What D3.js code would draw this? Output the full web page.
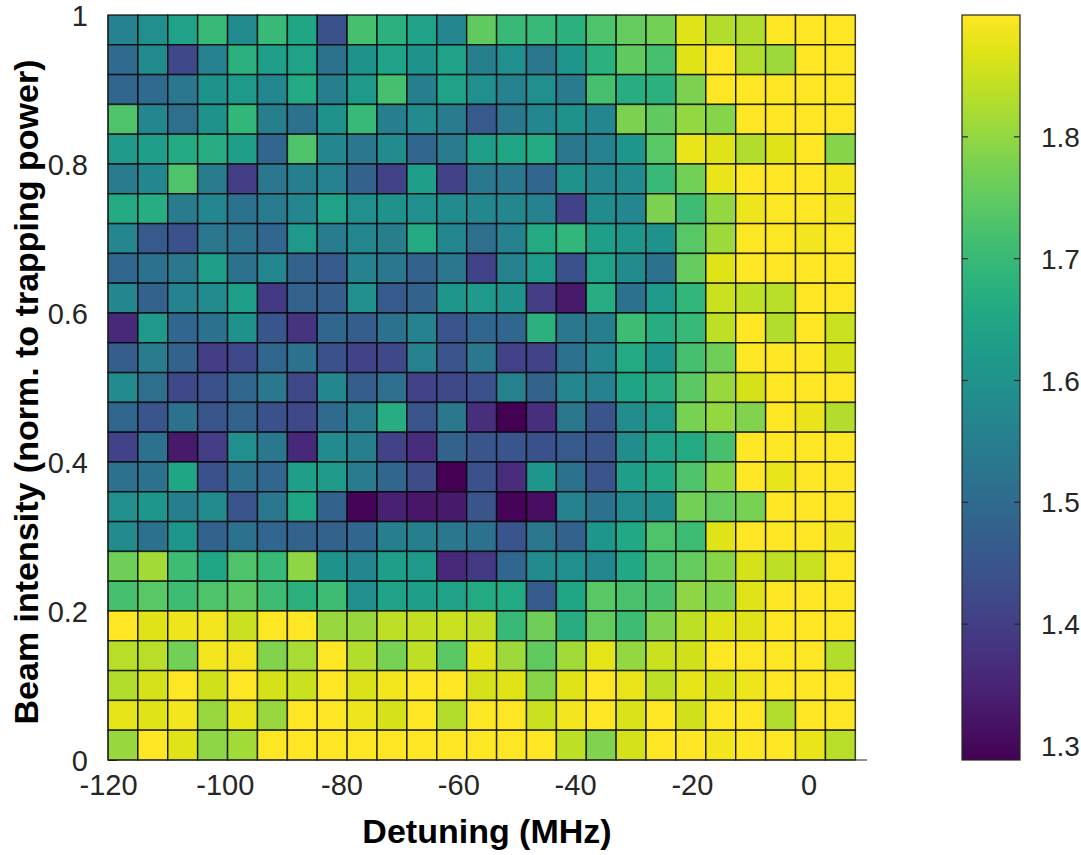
<!DOCTYPE html>
<html>
<head>
<meta charset="utf-8">
<script src="https://cdn.jsdelivr.net/npm/d3@7"></script>
<style>
  body { margin: 0; background: #fff; }
  svg { display: block; font-family: "Liberation Sans", Arial, sans-serif; }
</style>
</head>
<body>
<svg width="1081" height="855"></svg>
<script>
// column centres (MHz), 25 columns from -120 to 8
const detuning = [-117.44, -112.32, -107.2, -102.08, -96.96, -91.84, -86.72, -81.6, -76.48,
  -71.36, -66.24, -61.12, -56, -50.88, -45.76, -40.64, -35.52, -30.4, -25.28, -20.16,
  -15.04, -9.92, -4.8, 0.32, 5.44];
// row centres, top row first
const intensity = [0.98, 0.94, 0.90, 0.86, 0.82, 0.78, 0.74, 0.70, 0.66, 0.62, 0.58, 0.54, 0.50,
  0.46, 0.42, 0.38, 0.34, 0.30, 0.26, 0.22, 0.18, 0.14, 0.10, 0.06, 0.02];

// measured values, one row per intensity (top to bottom)
const z = [
  [1.56,1.59,1.64,1.70,1.58,1.70,1.65,1.44, 1.72,1.68,1.64,1.57,1.75,1.70,1.70,1.68,1.73, 1.755,1.77,1.87,1.83,1.83,1.90,1.90,1.90],
  [1.50,1.58,1.42,1.56,1.68,1.63,1.64,1.52, 1.60,1.64,1.60,1.64,1.55,1.59,1.53,1.61,1.68, 1.75,1.72,1.87,1.90,1.83,1.81,1.90,1.90],
  [1.49,1.50,1.53,1.60,1.62,1.57,1.66,1.55, 1.62,1.72,1.55,1.64,1.59,1.56,1.59,1.54,1.72, 1.67,1.68,1.78,1.90,1.90,1.90,1.90,1.90],
  [1.73,1.57,1.51,1.60,1.69,1.55,1.52,1.60, 1.70,1.55,1.58,1.54,1.46,1.53,1.57,1.60,1.57, 1.78,1.75,1.80,1.79,1.90,1.90,1.90,1.90],
  [1.62,1.63,1.66,1.67,1.63,1.49,1.73,1.57, 1.53,1.58,1.49,1.54,1.63,1.65,1.66,1.53,1.56, 1.61,1.74,1.88,1.87,1.83,1.87,1.90,1.79],
  [1.54,1.57,1.73,1.54,1.40,1.53,1.55,1.56, 1.48,1.41,1.63,1.41,1.53,1.53,1.49,1.60,1.57, 1.58,1.70,1.77,1.88,1.90,1.90,1.90,1.89],
  [1.66,1.67,1.54,1.57,1.52,1.54,1.57,1.64, 1.59,1.60,1.59,1.58,1.57,1.57,1.56,1.41,1.58, 1.57,1.78,1.71,1.80,1.885,1.90,1.90,1.89],
  [1.57,1.46,1.44,1.53,1.52,1.49,1.62,1.54, 1.57,1.55,1.66,1.57,1.51,1.56,1.66,1.69,1.63, 1.61,1.60,1.74,1.81,1.90,1.90,1.89,1.90],
  [1.49,1.52,1.53,1.63,1.52,1.57,1.48,1.46, 1.56,1.53,1.48,1.53,1.41,1.56,1.62,1.44,1.64, 1.58,1.52,1.755,1.87,1.90,1.90,1.90,1.90],
  [1.57,1.48,1.56,1.58,1.63,1.39,1.48,1.47, 1.59,1.46,1.48,1.61,1.62,1.60,1.40,1.33,1.67, 1.52,1.62,1.69,1.85,1.84,1.835,1.90,1.90],
  [1.36,1.62,1.49,1.52,1.60,1.45,1.38,1.49, 1.47,1.52,1.56,1.45,1.49,1.49,1.68,1.53,1.55, 1.71,1.67,1.70,1.84,1.90,1.83,1.90,1.85],
  [1.47,1.54,1.48,1.40,1.42,1.49,1.52,1.44, 1.41,1.42,1.56,1.45,1.53,1.41,1.41,1.52,1.57, 1.66,1.61,1.72,1.765,1.90,1.90,1.90,1.86],
  [1.58,1.51,1.42,1.44,1.49,1.53,1.42,1.57, 1.47,1.51,1.41,1.42,1.44,1.56,1.48,1.57,1.56, 1.645,1.67,1.745,1.805,1.86,1.90,1.90,1.90],
  [1.49,1.45,1.52,1.45,1.48,1.44,1.42,1.50, 1.54,1.67,1.45,1.53,1.37,1.29,1.37,1.53,1.45, 1.585,1.62,1.775,1.80,1.785,1.90,1.88,1.83],
  [1.41,1.52,1.33,1.40,1.59,1.53,1.36,1.58, 1.55,1.41,1.365,1.48,1.45,1.45,1.44,1.46,1.45, 1.585,1.64,1.66,1.72,1.90,1.90,1.90,1.90],
  [1.52,1.52,1.65,1.44,1.52,1.49,1.63,1.62, 1.54,1.49,1.43,1.29,1.44,1.365,1.61,1.52,1.45, 1.63,1.655,1.73,1.79,1.90,1.88,1.90,1.90],
  [1.59,1.61,1.55,1.58,1.45,1.53,1.65,1.48, 1.295,1.345,1.325,1.33,1.45,1.295,1.31,1.56,1.52, 1.58,1.585,1.77,1.755,1.775,1.90,1.90,1.90],
  [1.58,1.52,1.61,1.48,1.52,1.49,1.48,1.48, 1.49,1.55,1.55,1.53,1.52,1.45,1.53,1.48,1.61, 1.655,1.73,1.71,1.87,1.90,1.90,1.90,1.89],
  [1.765,1.815,1.71,1.65,1.73,1.70,1.795,1.60, 1.57,1.63,1.62,1.36,1.39,1.49,1.58,1.59,1.57, 1.655,1.725,1.755,1.79,1.86,1.84,1.85,1.90],
  [1.72,1.74,1.71,1.73,1.745,1.71,1.68,1.71, 1.59,1.64,1.63,1.64,1.66,1.66,1.46,1.65,1.74, 1.725,1.725,1.795,1.785,1.87,1.90,1.90,1.90],
  [1.90,1.87,1.885,1.89,1.85,1.90,1.90,1.805, 1.805,1.84,1.845,1.85,1.845,1.70,1.765,1.67,1.755, 1.71,1.785,1.84,1.87,1.87,1.90,1.90,1.90],
  [1.835,1.835,1.77,1.89,1.89,1.785,1.82,1.90, 1.83,1.775,1.84,1.745,1.87,1.81,1.75,1.815,1.875, 1.80,1.85,1.855,1.90,1.90,1.90,1.90,1.83],
  [1.83,1.86,1.90,1.855,1.90,1.86,1.85,1.90, 1.865,1.89,1.90,1.90,1.86,1.87,1.79,1.87,1.90, 1.88,1.84,1.875,1.865,1.885,1.90,1.90,1.90],
  [1.875,1.87,1.89,1.805,1.88,1.805,1.90,1.90, 1.885,1.86,1.90,1.83,1.90,1.90,1.85,1.89,1.90, 1.865,1.90,1.855,1.90,1.90,1.83,1.90,1.90],
  [1.805,1.90,1.87,1.795,1.815,1.90,1.90,1.90, 1.90,1.90,1.90,1.90,1.90,1.90,1.90,1.84,1.785, 1.86,1.90,1.90,1.89,1.90,1.90,1.88,1.835]
];

const xTicks = [-120, -100, -80, -60, -40, -20, 0];
const yTicks = [0, 0.2, 0.4, 0.6, 0.8, 1];
const cTicks = [1.3, 1.4, 1.5, 1.6, 1.7, 1.8];
const cRange = [1.2885, 1.9];

const svg = d3.select("svg");
const mLeft = 108, mRight = 867, mTop = 15, mBottom = 760;

const x = d3.scaleLinear().domain([-120, 10]).range([mLeft, mRight]);
const y = d3.scaleLinear().domain([0, 1]).range([mBottom, mTop]);
const color = d3.scaleSequential(d3.interpolateViridis).domain(cRange);

svg.append("rect").attr("width", 1081).attr("height", 855).attr("fill", "#fff");

const dx = detuning[1] - detuning[0];
const dy = intensity[0] - intensity[1];

// axes (ticks point inward, like the original)
const xAxis = svg.append("g")
  .attr("transform", `translate(0,${mBottom})`)
  .call(d3.axisBottom(x).tickValues(xTicks).tickSize(-9).tickPadding(29).tickFormat(d => String(d)));
const yAxis = svg.append("g")
  .attr("transform", `translate(${mLeft},0)`)
  .call(d3.axisLeft(y).tickValues(yTicks).tickSize(-9).tickPadding(20).tickFormat(d => d === 0 || d === 1 ? d : d3.format(".1f")(d)));

[xAxis, yAxis].forEach(a => {
  a.selectAll("text").attr("font-size", 29).attr("fill", "#262626")
    .attr("font-family", "Liberation Sans, Arial, sans-serif");
  a.selectAll("line").attr("stroke", "#262626");
  a.select(".domain").remove();
});
xAxis.selectAll("text").attr("dy", "0.22em");
yAxis.selectAll("text").attr("dy", "0.36em");

// cells
const cells = [];
z.forEach((row, r) => row.forEach((v, c) => cells.push({ r, c, v })));

svg.append("g")
  .selectAll("rect")
  .data(cells)
  .join("rect")
  .attr("x", d => x(detuning[d.c] - dx / 2))
  .attr("y", d => y(intensity[d.r] + dy / 2))
  .attr("width", x(dx) - x(0))
  .attr("height", y(0) - y(dy))
  .attr("fill", d => color(d.v))
  .attr("stroke", "#000")
  .attr("stroke-opacity", 0.75)
  .attr("stroke-width", 1.5);

// axis lines
svg.append("line").attr("x1", mLeft).attr("x2", mRight).attr("y1", mBottom).attr("y2", mBottom)
  .attr("stroke", "#262626").attr("stroke-width", 1.2);
svg.append("line").attr("x1", mLeft).attr("x2", mLeft).attr("y1", mTop).attr("y2", mBottom)
  .attr("stroke", "#262626").attr("stroke-width", 1.2);

// axis titles
svg.append("text")
  .attr("x", 487).attr("y", 843)
  .attr("text-anchor", "middle")
  .attr("font-size", 34).attr("font-weight", "bold").attr("fill", "#000")
  .text("Detuning (MHz)");
svg.append("text")
  .attr("transform", `translate(38,392) rotate(-90)`)
  .attr("text-anchor", "middle")
  .attr("font-size", 34).attr("font-weight", "bold").attr("fill", "#000")
  .text("Beam intensity (norm. to trapping power)");

// colorbar
const cbX = 962, cbW = 58;
const cy = d3.scaleLinear().domain(cRange).range([mBottom, mTop]);
const defs = svg.append("defs");
const grad = defs.append("linearGradient").attr("id", "cbgrad")
  .attr("x1", 0).attr("x2", 0).attr("y1", 1).attr("y2", 0);
d3.range(0, 1.0001, 0.05).forEach(t => {
  grad.append("stop").attr("offset", t).attr("stop-color", d3.interpolateViridis(t));
});
svg.append("rect").attr("x", cbX).attr("y", mTop).attr("width", cbW).attr("height", mBottom - mTop)
  .attr("fill", "url(#cbgrad)").attr("stroke", "#262626").attr("stroke-width", 1.2);

const cb = svg.append("g");
cb.selectAll("line.l").data(cTicks).join("line")
  .attr("x1", cbX).attr("x2", cbX + 6).attr("y1", d => cy(d)).attr("y2", d => cy(d))
  .attr("stroke", "#262626").attr("stroke-width", 1.2);
cb.selectAll("line.r").data(cTicks).join("line")
  .attr("x1", cbX + cbW - 6).attr("x2", cbX + cbW).attr("y1", d => cy(d)).attr("y2", d => cy(d))
  .attr("stroke", "#262626").attr("stroke-width", 1.2);
cb.selectAll("text").data(cTicks).join("text")
  .attr("x", cbX + cbW + 21).attr("y", d => cy(d)).attr("dy", "0.36em")
  .attr("font-size", 28).attr("fill", "#262626")
  .text(d => d3.format(".1f")(d));
</script>
</body>
</html>
